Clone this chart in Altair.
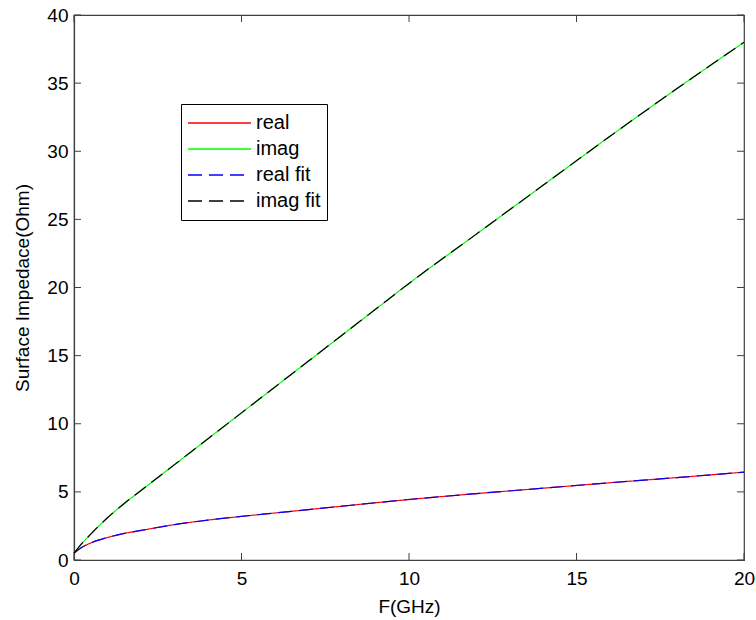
import altair as alt
import pandas as pd

# Frequency samples (GHz)
freq = [0, 0.25, 0.5, 1, 1.5, 2, 3, 4, 5, 6, 7, 8, 9, 10, 12, 14, 16, 18, 20]
# Measured surface impedance (Ohm)
real = [0.5, 0.95, 1.25, 1.65, 1.95, 2.17, 2.6, 2.93, 3.2, 3.45, 3.7, 3.95, 4.2, 4.44, 4.87, 5.27, 5.67, 6.05, 6.45]
imag = [0.5, 1.25, 1.9, 3.1, 4.15, 5.1, 7.0, 8.9, 10.8, 12.7, 14.6, 16.5, 18.4, 20.3, 23.9, 27.5, 31.1, 34.6, 38.0]
# Fitted curves
real_fit = [0.5, 0.95, 1.25, 1.65, 1.95, 2.17, 2.6, 2.93, 3.2, 3.45, 3.7, 3.95, 4.2, 4.44, 4.87, 5.27, 5.67, 6.05, 6.45]
imag_fit = [0.5, 1.25, 1.9, 3.1, 4.15, 5.1, 7.0, 8.9, 10.8, 12.7, 14.6, 16.5, 18.4, 20.3, 23.9, 27.5, 31.1, 34.6, 38.0]

series_names = ["real", "imag", "real fit", "imag fit"]
series_colors = ["#ff0000", "#00ff00", "#0000ff", "#000000"]
series_dash = [[1, 0], [1, 0], [14, 7], [14, 7]]

x_ticks = [0, 5, 10, 15, 20]
y_ticks = [0, 5, 10, 15, 20, 25, 30, 35, 40]

W, H = 670, 545
FRAME = "#404040"
FONT = "Liberation Sans"

rows = []
for name, vals in zip(series_names, [real, imag, real_fit, imag_fit]):
    for f, v in zip(freq, vals):
        rows.append({"F": f, "Z": v, "series": name})
df = pd.DataFrame(rows)

xs = alt.Scale(domain=[0, 20], nice=False, zero=False)
ys = alt.Scale(domain=[0, 40], nice=False, zero=False)

color_enc = alt.Color(
    "series:N",
    scale=alt.Scale(domain=series_names, range=series_colors),
    legend=alt.Legend(
        title=None,
        orient="none",
        legendX=107,
        legendY=89,
        symbolType="stroke",
        symbolSize=3969,
        symbolStrokeWidth=1.3,
        clipHeight=26,
        rowPadding=0,
        labelFontSize=20,
        labelFont=FONT,
        labelColor="#000000",
        labelOffset=4,
        strokeColor="#000000",
        fillColor="#ffffff",
        padding=6,
    ),
)
dash_enc = alt.StrokeDash(
    "series:N",
    scale=alt.Scale(domain=series_names, range=series_dash),
    legend=alt.Legend(title=None),
)

x_enc = alt.X(
    "F:Q",
    scale=xs,
    axis=alt.Axis(
        title="F(GHz)",
        values=x_ticks,
        ticks=False,
        tickSize=0,
        grid=False,
        labelFlush=False,
        labelPadding=9,
        labelFontSize=19,
        labelFont=FONT,
        labelColor="#000000",
        titleFontSize=19,
        titleFont=FONT,
        titleFontWeight="normal",
        titleColor="#000000",
        titleY=46,
        titleBaseline="middle",
        domainColor=FRAME,
    ),
)
y_enc = alt.Y(
    "Z:Q",
    scale=ys,
    axis=alt.Axis(
        title="Surface Impedace(Ohm)",
        values=y_ticks,
        ticks=False,
        tickSize=0,
        grid=False,
        labelFlush=False,
        labelPadding=6,
        labelFontSize=19,
        labelFont=FONT,
        labelColor="#000000",
        titleFontSize=19,
        titleFont=FONT,
        titleFontWeight="normal",
        titleColor="#000000",
        titleX=-52,
        titleBaseline="middle",
        domainColor=FRAME,
    ),
)

measured = alt.Chart(df).transform_filter(
    alt.FieldOneOfPredicate(field="series", oneOf=["real", "imag"])
).mark_line(strokeWidth=1.2, interpolate="monotone").encode(
    x=x_enc, y=y_enc, color=color_enc, strokeDash=dash_enc
)
fits = alt.Chart(df).transform_filter(
    alt.FieldOneOfPredicate(field="series", oneOf=["real fit", "imag fit"])
).mark_line(strokeWidth=1.2, interpolate="monotone").encode(
    x=alt.X("F:Q", scale=xs), y=alt.Y("Z:Q", scale=ys), color=color_enc, strokeDash=dash_enc
)

xt = pd.DataFrame({"t": x_ticks})
yt = pd.DataFrame({"t": y_ticks})
TL = 7
bottom_ticks = alt.Chart(xt).mark_rule(color=FRAME, strokeWidth=1).encode(
    x=alt.X("t:Q", scale=xs), y=alt.value(H), y2=alt.value(H - TL)
)
top_ticks = alt.Chart(xt).mark_rule(color=FRAME, strokeWidth=1).encode(
    x=alt.X("t:Q", scale=xs), y=alt.value(0), y2=alt.value(TL)
)
left_ticks = alt.Chart(yt).mark_rule(color=FRAME, strokeWidth=1).encode(
    y=alt.Y("t:Q", scale=ys), x=alt.value(0), x2=alt.value(TL)
)
right_ticks = alt.Chart(yt).mark_rule(color=FRAME, strokeWidth=1).encode(
    y=alt.Y("t:Q", scale=ys), x=alt.value(W), x2=alt.value(W - TL)
)

chart = alt.layer(
    measured, fits, bottom_ticks, top_ticks, left_ticks, right_ticks
).properties(
    width=W,
    height=H,
    autosize=alt.AutoSizeParams(type="none"),
    padding={"left": 74, "top": 15, "right": 12, "bottom": 60},
    background="#ffffff",
).configure_view(
    stroke=FRAME, strokeWidth=1.2
).configure_axis(
    domainWidth=1.2
)

chart.save("out.html", embed_options={"renderer": "svg", "actions": False})
